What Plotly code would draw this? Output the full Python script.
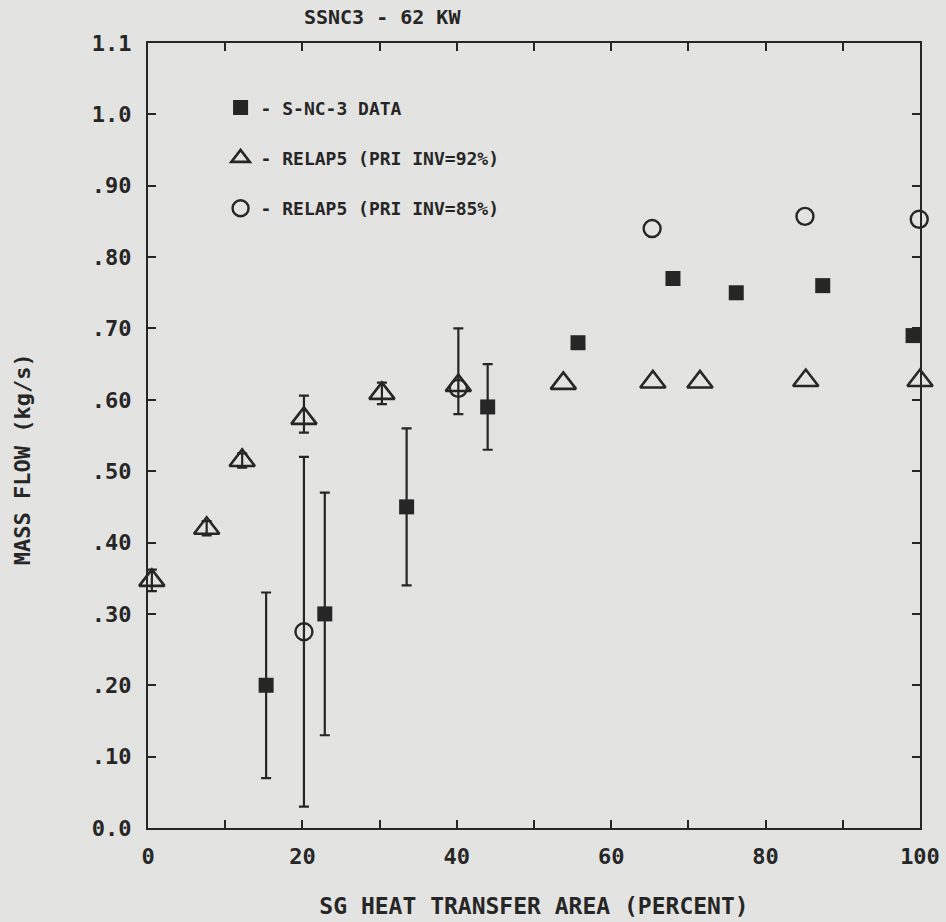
import plotly.graph_objects as go

# ---- data ----
data_x = [15.3, 22.9, 33.5, 44.0, 55.7, 68.0, 76.2, 87.4, 99.1]
data_y = [0.20, 0.30, 0.45, 0.59, 0.68, 0.77, 0.75, 0.76, 0.69]
data_err_plus = [0.13, 0.17, 0.11, 0.06, 0, 0, 0, 0, 0]
data_err_minus = [0.13, 0.17, 0.11, 0.06, 0, 0, 0, 0, 0]

r92_x = [0.5, 7.6, 12.2, 20.2, 30.3, 40.2, 53.8, 65.4, 71.5, 85.2, 100.0]
r92_y = [0.347, 0.42, 0.515, 0.574, 0.609, 0.62, 0.623, 0.625, 0.625, 0.627, 0.627]
r92_err_plus = [0.015, 0.01, 0.01, 0.032, 0.015, 0, 0, 0, 0, 0, 0]
r92_err_minus = [0.015, 0.01, 0.01, 0.02, 0.015, 0, 0, 0, 0, 0, 0]

r85_x = [20.2, 40.2, 65.3, 85.1, 99.9]
r85_y = [0.275, 0.616, 0.84, 0.857, 0.853]
r85_err_plus = [0.245, 0.084, 0, 0, 0]
r85_err_minus = [0.245, 0.036, 0, 0, 0]

x_tickvals = [0, 10, 20, 30, 40, 50, 60, 70, 80, 90, 100]
x_ticktext = ["0", "", "20", "", "40", "", "60", "", "80", "", "100"]
y_tickvals = [0.0, 0.1, 0.2, 0.3, 0.4, 0.5, 0.6, 0.7, 0.8, 0.9, 1.0, 1.1]
y_ticktext = ["0.0", ".10", ".20", ".30", ".40", ".50", ".60", ".70", ".80", ".90", "1.0", "1.1"]

names = ["- S-NC-3 DATA", "- RELAP5 (PRI INV=92%)", "- RELAP5 (PRI INV=85%)"]

INK = "#262626"
BG = "#e3e3e1"
FONT = "DejaVu Sans Mono"

fig = go.Figure()


def add_errors(xs, ys, up, down):
    idx = [i for i in range(len(xs)) if up[i] or down[i]]
    fig.add_trace(go.Scatter(
        x=[xs[i] for i in idx], y=[ys[i] for i in idx], mode="markers",
        showlegend=False, hoverinfo="skip", cliponaxis=False,
        marker=dict(size=1, color="rgba(0,0,0,0)"),
        error_y=dict(type="data", array=[up[i] for i in idx],
                     arrayminus=[down[i] for i in idx],
                     color=INK, thickness=2.2, width=5),
    ))


add_errors(data_x, data_y, data_err_plus, data_err_minus)
add_errors(r92_x, r92_y, r92_err_plus, r92_err_minus)
add_errors(r85_x, r85_y, r85_err_plus, r85_err_minus)

fig.add_trace(go.Scatter(
    x=data_x, y=data_y, mode="markers", name=names[0], legendgroup="a", cliponaxis=False,
    marker=dict(symbol="square", size=15, color=INK, line=dict(width=0)),
))
fig.add_trace(go.Scatter(
    x=r92_x, y=r92_y, mode="markers", name=names[1], legendgroup="b", cliponaxis=False,
    marker=dict(symbol="triangle-up-open", size=22, color=INK, line=dict(width=2.6)),
))
fig.add_trace(go.Scatter(
    x=r85_x, y=r85_y, mode="markers", name=names[2], legendgroup="c", cliponaxis=False,
    marker=dict(symbol="circle-open", size=17, color=INK, line=dict(width=2.4)),
))

axis_common = dict(
    showline=True, linecolor=INK, linewidth=2.2, mirror="ticks",
    ticks="inside", ticklen=8, tickwidth=2, tickcolor=INK,
    showgrid=False, zeroline=False, automargin=False,
    tickfont=dict(family=FONT, size=22, color=INK, weight="bold"),
)

fig.update_xaxes(
    range=[0, 100], tickmode="array", tickvals=x_tickvals, ticktext=x_ticktext,
    ticklabelstandoff=7,
    title=dict(text="SG HEAT TRANSFER AREA (PERCENT)",
               font=dict(family=FONT, size=23, color=INK, weight="bold"),
               standoff=30),
    **axis_common,
)
fig.update_yaxes(
    range=[0, 1.1], tickmode="array", tickvals=y_tickvals, ticktext=y_ticktext,
    ticklabelstandoff=10,
    **axis_common,
)

fig.update_layout(
    width=946, height=922,
    margin=dict(l=148, r=26, t=43, b=94),
    paper_bgcolor=BG, plot_bgcolor=BG,
    font=dict(family=FONT, color=INK),
    title=dict(text="SSNC3 - 62 KW", x=0.404, xanchor="center", y=0.982, yanchor="middle",
               font=dict(family=FONT, size=20, color=INK, weight="bold")),
    showlegend=True,
    legend=dict(x=0.094, y=0.941, xanchor="left", yanchor="top", bgcolor="rgba(0,0,0,0)",
                font=dict(family=FONT, size=18, color=INK, weight="bold"),
                traceorder="grouped", tracegroupgap=24, itemwidth=30),
    annotations=[dict(
        text="MASS FLOW (kg/s)", textangle=-90, showarrow=False,
        xref="paper", yref="paper", x=-0.163, y=0.47, xanchor="center", yanchor="middle",
        font=dict(family=FONT, size=22, color=INK, weight="bold"),
    )],
)

fig.write_html("out.html")
